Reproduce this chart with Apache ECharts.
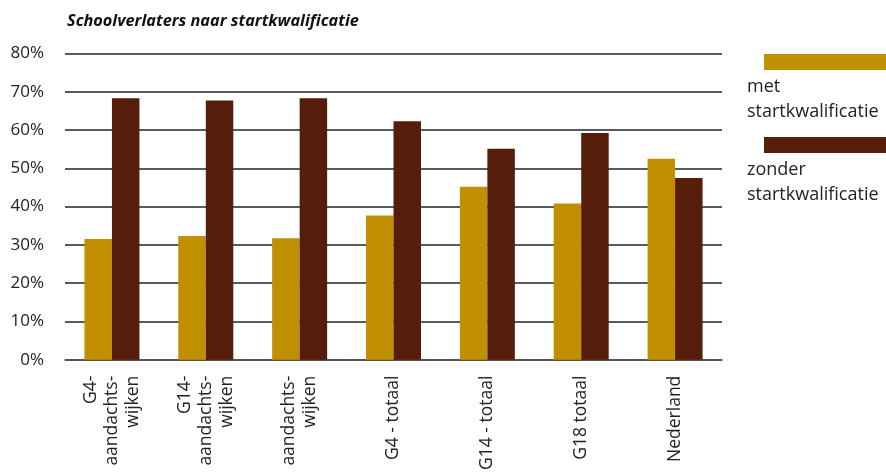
<!DOCTYPE html>
<html><head><meta charset="utf-8">
<script src="https://cdn.jsdelivr.net/npm/echarts@6/dist/echarts.min.js"></script>
<style>html,body{margin:0;padding:0;background:#fff}#c{width:886px;height:473px}</style>
</head><body><div id="c"></div>
<script>
const title = 'Schoolverlaters naar startkwalificatie';
const categories = ['G4-\naandachts-\nwijken', 'G14-\naandachts-\nwijken', 'aandachts-\nwijken', 'G4 - totaal', 'G14 - totaal', 'G18 totaal', 'Nederland'];
const seriesNames = ['met\nstartkwalificatie', 'zonder\nstartkwalificatie'];
const metValues = [31.5, 32.3, 31.7, 37.7, 45.2, 40.8, 52.5];
const zonderValues = [68.3, 67.7, 68.3, 62.3, 55.1, 59.2, 47.5];
const colors = ['#c09000', '#561e0a'];
const yMin = 0, yMax = 80, yStep = 10;

const font = '"Open Sans", "DejaVu Sans", sans-serif';
const chart = echarts.init(document.getElementById('c'), null, {renderer: 'canvas'});
chart.setOption({
  animation: false,
  title: {text: title, left: 62, top: 8, textStyle: {fontFamily: font, fontSize: 16.3, fontWeight: 'bold', fontStyle: 'italic', color: '#111'}},
  grid: {left: 65, right: 164, top: 53.5, bottom: 111.5, containLabel: false},
  xAxis: {
    type: 'category', data: categories,
    axisLine: {lineStyle: {color: '#555', width: 1.5}},
    axisTick: {show: false},
    axisLabel: {rotate: 90, interval: 0, fontFamily: font, fontSize: 17.5, color: '#222', lineHeight: 21, margin: 16, align: 'right'}
  },
  yAxis: {
    type: 'value', min: yMin, max: yMax, interval: yStep,
    axisLine: {show: false}, axisTick: {show: false},
    axisLabel: {formatter: v => v + '%', fontFamily: font, fontSize: 17, color: '#222', margin: 21},
    splitLine: {lineStyle: {color: '#222', width: 1.6}}
  },
  series: [
    {name: seriesNames[0], type: 'bar', data: metValues, itemStyle: {color: colors[0]}, barWidth: 27.5, barGap: '0%'},
    {name: seriesNames[1], type: 'bar', data: zonderValues, itemStyle: {color: colors[1]}, barWidth: 27.5, barGap: '0%'}
  ],
  graphic: [
    {type: 'rect', left: 764, top: 54, shape: {width: 122, height: 16}, style: {fill: colors[0]}},
    {type: 'text', left: 747, top: 74, style: {text: seriesNames[0], font: '18px ' + font, fill: '#222', lineHeight: 25}},
    {type: 'rect', left: 764, top: 137, shape: {width: 122, height: 16}, style: {fill: colors[1]}},
    {type: 'text', left: 747, top: 157, style: {text: seriesNames[1], font: '18px ' + font, fill: '#222', lineHeight: 25}}
  ]
});
</script></body></html>
